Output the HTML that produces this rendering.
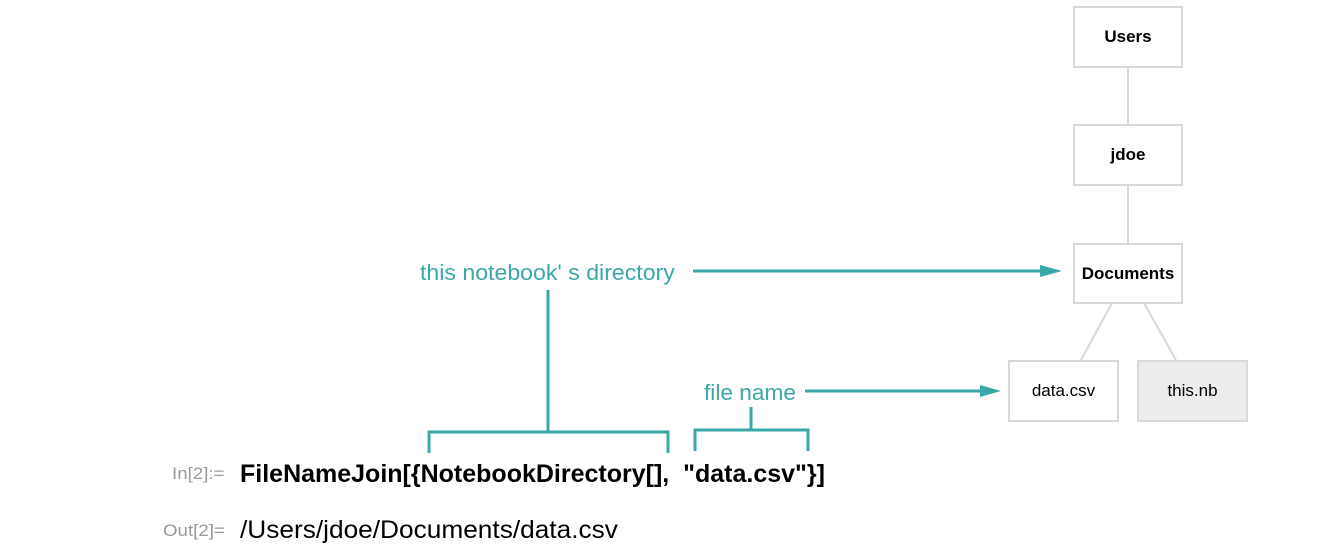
<!DOCTYPE html>
<html><head><style>
body{margin:0;background:#fff;width:1340px;height:560px;overflow:hidden;position:relative;font-family:"Liberation Sans",sans-serif}
.t{position:absolute;white-space:nowrap;transform-origin:0 0}
.box{position:absolute;box-sizing:border-box;border:2px solid #d9d9d9;background:#fff;display:flex;align-items:center;justify-content:center;font-size:17px;color:#000}
</style></head><body>
<svg width="1340" height="560" style="position:absolute;left:0;top:0">
<g stroke="#d9d9d9" stroke-width="2" fill="none">
<line x1="1128" y1="67" x2="1128" y2="124"/>
<line x1="1128" y1="185" x2="1128" y2="243"/>
<line x1="1112" y1="303" x2="1081" y2="360"/>
<line x1="1144" y1="303" x2="1176" y2="360"/>
</g>
<g stroke="#3aa8a8" stroke-width="3" fill="none">
<polyline points="429,453 429,432 668,432 668,453"/>
<line x1="548" y1="290" x2="548" y2="432"/>
<polyline points="695,451 695,430 808,430 808,451"/>
<line x1="751" y1="407" x2="751" y2="430"/>
<line x1="693" y1="271" x2="1045" y2="271"/>
<line x1="805" y1="391" x2="984" y2="391"/>
</g>
<polygon points="1040,265 1062,271 1040,277" fill="#3aa8a8"/>
<polygon points="980,385 1001,391 980,397" fill="#3aa8a8"/>
</svg>
<div class="box" style="left:1073px;top:6px;width:110px;height:62px;font-weight:bold">Users</div>
<div class="box" style="left:1073px;top:124px;width:110px;height:62px;font-weight:bold">jdoe</div>
<div class="box" style="left:1073px;top:243px;width:110px;height:61px;font-weight:bold">Documents</div>
<div class="box" style="left:1008px;top:360px;width:111px;height:62px">data.csv</div>
<div class="box" style="left:1137px;top:360px;width:111px;height:62px;background:#ececec">this.nb</div>
<div class="t" style="left:420px;top:260px;font-size:22px;color:#3aa8a8;transform:scaleX(1.05)">this notebook' s directory</div>
<div class="t" style="left:704px;top:380px;font-size:22px;color:#3aa8a8;transform:scaleX(1.03)">file name</div>
<div class="t" style="left:172px;top:464px;font-size:17px;color:#999;transform:scaleX(1.1)">In[2]:=</div>
<div class="t" style="left:163px;top:521px;font-size:17px;color:#999;transform:scaleX(1.1)">Out[2]=</div>
<div class="t" style="left:240px;top:460px;font-size:25px;font-weight:bold;color:#000;transform:scaleX(1.0)">FileNameJoin[{NotebookDirectory[], &nbsp;"data.csv"}]</div>
<div class="t" style="left:240px;top:516px;font-size:25px;color:#000;transform:scaleX(1.05)">/Users/jdoe/Documents/data.csv</div>
</body></html>
